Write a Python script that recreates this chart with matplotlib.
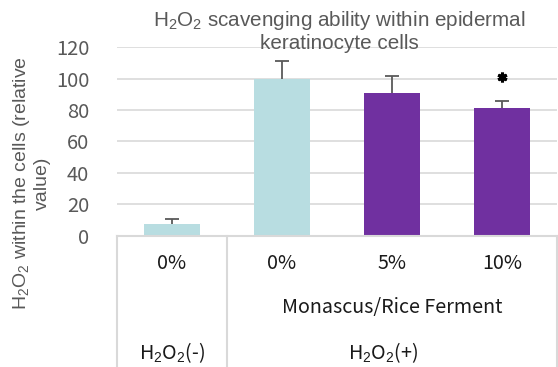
import matplotlib.pyplot as plt

plt.rcParams["mathtext.fontset"] = "custom"
plt.rcParams["mathtext.rm"] = "Liberation Sans"
plt.rcParams["mathtext.it"] = "Liberation Sans:italic"

# bar data (relative H2O2 level)
groups = ["0%", "0%", "5%", "10%"]
values = [7.5, 100, 91, 81]
errors = [3, 11, 10.5, 4.5]
colors = ["#B8DDE1", "#B8DDE1", "#7030A0", "#7030A0"]
star_group = 3
star_level = 101
yticks = [0, 20, 40, 60, 80, 100, 120]

W, H = 558, 367
fig = plt.figure(figsize=(W / 100, H / 100), dpi=100)
left, right, top, bottom = 117, 557, 47.3, 235.5
ax = fig.add_axes([left / W, (H - bottom) / H, (right - left) / W, (bottom - top) / H])

x = list(range(len(groups)))
ax.bar(x, values, width=0.51, color=colors, zorder=2)
ax.vlines(x, values, [v + e for v, e in zip(values, errors)], color="#595959", lw=1.3, zorder=3)
ax.hlines([v + e for v, e in zip(values, errors)], [i - 0.06 for i in x], [i + 0.06 for i in x],
          color="#595959", lw=1.3, zorder=3)
ax.plot(star_group, star_level, marker=(6, 2, 0), ms=7, mew=2.2, color="black", zorder=4)

ax.set_xlim(-0.5, 3.5)
ax.set_ylim(0, 120)
ax.set_yticks(yticks)
ax.set_yticklabels([str(t) for t in yticks], fontsize=14.5, color="#595959", family="Noto Sans CJK JP")
ax.tick_params(axis="y", length=0, pad=20)
ax.set_xticks([])
ax.grid(axis="y", color="#D9D9D9", lw=1.2, zorder=0)
for s in ax.spines.values():
    s.set_visible(False)

# category table under the axis
tr = ax.get_xaxis_transform()
line_kw = dict(color="#D9D9D9", lw=1.5, transform=tr, clip_on=False, zorder=5)
ax.plot([-0.5, 3.5], [0, 0], **line_kw)
ax.plot([-0.5, -0.5], [0, -0.8], **line_kw)
ax.plot([0.5, 0.5], [0, -0.8], **line_kw)
ax.plot([3.5, 3.5], [0, -0.8], **line_kw)

cat_kw = dict(transform=tr, ha="center", va="center", fontsize=14.2, color="#1a1a1a",
              family="Noto Sans CJK JP")
for i, g in enumerate(groups):
    ax.text(i, -0.15, g, **cat_kw)
ax.text(2, -0.385, "Monascus/Rice Ferment", **cat_kw)
ax.text(0, -0.62, "H$_2$O$_2$(-)", **cat_kw)
ax.text(1.92, -0.62, "H$_2$O$_2$(+)", **cat_kw)

fig.text(339 / W, 1 - 31 / H, "H$_2$O$_2$ scavenging ability within epidermal\nkeratinocyte cells",
         ha="center", va="center", fontsize=14.9, color="#595959", family="Liberation Sans",
         linespacing=1.15)
fig.text(31 / W, 1 - 183 / H, "H$_2$O$_2$ within the cells (relative\nvalue)", rotation=90,
         ha="center", va="center", multialignment="center", fontsize=14, color="#595959",
         family="Liberation Sans", linespacing=1.13)

fig.savefig("out.png", dpi=100)
